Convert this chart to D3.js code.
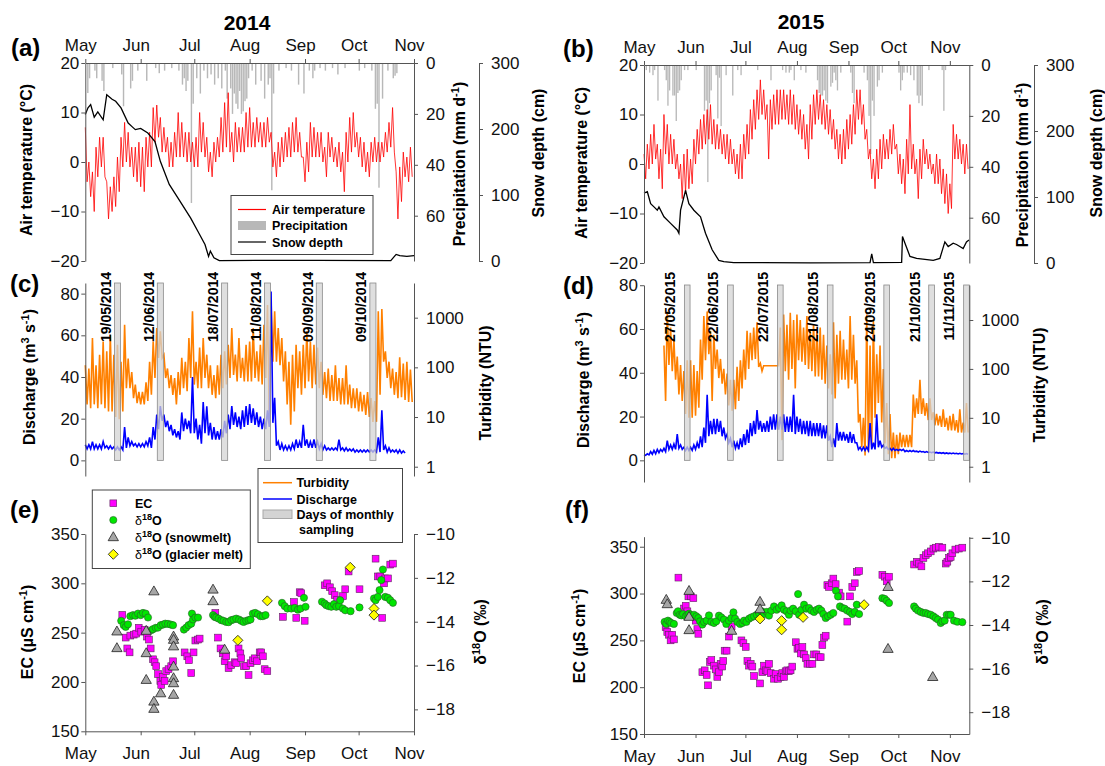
<!DOCTYPE html>
<html>
<head>
<meta charset="utf-8">
<script src="https://cdnjs.cloudflare.com/ajax/libs/d3/7.8.5/d3.min.js"></script>
<style>
  body { margin: 0; background: #fff; }
  svg { font-family: Arial, "Liberation Sans", sans-serif; }
</style>
</head>
<body>
<svg id="chart" width="1105" height="766"></svg>
<script>
'use strict';

// ---- data (days counted from 1 May of each year) ----
var years = ['2014', '2015'];

// air temperature, lows / highs read every 2 days
var tempHi14 = [7,0,-2,3,5,5,-4,-5,-3,1, 5,8,6,3,3,4,3,5,6,11, 11.5,9,7,5,4,6,10,8,6,6, 4,5,10,8,5,2,4,5,9,12,
  14,6,8,7,7,10,11,8,9,8, 8,9,6,2,4,5,6,7,8,9, 6,1,4,8,7,6,6,3,6,5, 3,4,2,6,9,10,6,5,4,2, 4,5,4,4,6,8,11,-2,-1,2, 1,3];
var tempLo14 = [-4,-7,-10,-3,-1,-3,-11.5,-10,-9,-6, -1,0,-1,-3,-4,-5,-6,-1,-1,4, 5,2,2,-1,-1,1,1,1,0,0, -1,-1,2,1,-2,-3,0,1,2,3,
  2,0,2,2,2,3,3,3,4,3, 3,4,-1,-3,-1,0,1,1,2,2, 1,-4,-2,1,1,1,0,-3,1,0, -1,-2,-6,0,2,3,1,-1,-2,-3, 0,0,0,1,2,3,2,-11.5,-8,-3, -4,-3];
var tempHi15 = [2,4,6,8,4,3,10,8,6,5, 2,0,2,3,1,5,7,9,10,11, 12,9,8,7,6,6,5,3,2,4, 6,8,11,13,15,17,15,12,13,14,
  15,15,15,14,15,14,12,11,10,8, 12,14,15,14,13,12,11,9,7,6, 7,9,10,12,15,15,12,7,3,1, 3,5,6,5,7,8,4,2,1,5,
  12,4,1,3,5,3,2,0,2,1, -1,-2,-4,8,6,5,4,4];
var tempLo15 = [-3,-1,0,1,-3,-5,2,0,0,-1, -3,-7,-6,-5,-4,0,2,3,4,5, 4,3,3,2,1,0,0,-2,-3,-3, 1,2,5,7,9,10,9,1,7,8,
  8,9,9,8,8,7,6,5,3,1, 5,8,9,8,7,6,5,3,1,0, 1,3,4,6,9,8,5,1,-3,-5, -3,-1,1,1,2,3,-2,-4,-6,-2,
  -1,-2,-7,-3,0,-1,-2,-4,-4,-6, -8,-10,-9,1,1,0,-2,-1];

// precipitation [day, mm]
var precip14 = [[1,11.8],[2,6],[5,3],[6,6],[9,7],[10,11],[15,2],[20,4.5],[21,17],[25,10],[26,7],[29,3],[34,7],[39,2],[41,4],
  [44,3],[48,2],[52,3],[54,8.5],[55,6],[56,11],[57,7],[59,55],[60,16],[62,6],[64,12],[66,3],[68,6],[70,4.5],[72,8.5],[74,6],
  [76,10],[78,3],[79,14],[81,10],[82,20],[83,12],[84,16],[85,18],[86,11],[87,20],[88,19],[89,15],[90,14],[91,6],[93,3],
  [95,8.5],[98,7],[100,14],[102,8.5],[103,6],[104,50],[105,12],[108,3],[112,2],[115,3],[119,8.5],[122,12],[125,3],[127,6],
  [128,3],[131,2],[134,3],[138,2],[141,4.5],[145,2],[153,3],[156,2],[160,3],[162,18],[163,16],[164,49],[166,14],[169,3],
  [172,6],[173,5],[174,4]];
var precip15 = [[1,2],[3,3],[5,4],[6,2],[8,14],[12,2],[13,6],[14,16],[15,10],[17,12],[18,12],[19,22],[20,11],[21,10],[22,6],
  [24,2],[26,2],[31,2],[36,18],[37,14],[38,46],[39,15],[40,10],[43,4],[44,21],[45,5],[46,24],[49,4],[53,12],[56,2],[58,4],
  [68,2],[76,6],[83,2],[85,3],[87,3],[88,2],[90,6],[94,2],[97,3],[104,6],[105,11],[106,12],[107,12],[108,10],[109,14],
  [110,15],[112,8.5],[113,7],[114,3],[115,6],[116,10],[118,3],[124,3],[125,11],[126,15],[132,3],[134,6],[135,20],[136,35],
  [137,14],[138,20],[140,8.5],[141,6],[143,3],[153,3],[154,10],[155,6],[156,3],[158,3],[160,4],[162,6],[164,12],[165,15],
  [166,12],[167,16],[171,2],[179,2],[180,18],[181,2]];

// snow depth [day, cm]
var snow14 = [[0,222],[1.5,232],[3,237],[5,218],[7,226],[10,214],[12,252],[15,245],[17,242],[20,232],[24,209],[26,204],
  [28,199],[31,201],[35,194],[39,181],[42,151],[47,116],[52,95],[59,65],[63,45],[67,25],[69,7],[70,15],[72,5],[75,0.5],
  [100,1],[130,1],[171,0.5],[174,10],[176,8],[180,7],[184,8]];
var snow15 = [[0,106],[2,108],[4,90],[6,85],[8,80],[9,85],[12,70],[16,60],[20,50],[21,45],[22,80],[25,110],[27,90],[30,80],
  [34,70],[37,45],[41,20],[45,4],[48,2],[54,0.5],[100,0.3],[136,0.5],[137,14],[138,0.5],[155,1],[155.5,40],[157,30],
  [160,10],[164,7],[174,4],[178,7],[181,32],[183,25],[186,30],[188,28],[190,25],[192,22],[194,32],[195.5,35]];

// turbidity (NTU), lows / highs every 2 days
var turbHi14 = [110,95,390,110,180,330,210,450,180,285, 130,720,150,80,45,32,32,50,130,330, 620,530,180,95,70,61,80,155,130,390,
  1340,130,250,390,180,110,70,110,180,210, 285,620,180,390,155,285,330,620,210,285, 720,1800,2100,1340,620,390,210,130,180,285,
  210,285,530,330,285,250,130,80,95,70, 110,61,61,110,45,38,38,32,28,32, 24,21,1340,1500,210,130,95,80,160,120, 130,90];
var turbLo14 = [18,15,18,15,18,15,13,13,10,9, 13,38,38,24,19,18,18,21,28,61, 155,155,61,38,28,18,28,38,33,61,
  45,38,38,61,38,28,24,28,38,45, 61,70,52,61,52,52,52,61,52,45, 61,10,130,130,110,52,18,7,13,38,
  28,38,52,38,45,38,28,24,21,21, 21,18,18,18,15,15,13,13,11,10, 8,8,28,130,61,38,28,24,25,22, 20,20];
var turbHi15 = [null,null,null,null,null,null, 300,1500,700,400,180,120,90,150,150,120, 90,400,1200,1500,600,500,250,160,100,80,
  60,60,110,150,250,600,550,700,900,130, 116,116,116,116,116,700,1300,800,1400,1000, 1300,1000,700,1200,600,800,600,700,500,300,
  200,900,500,600,400,250,1200,500,150,12, 10,1300,300,1000,200,300,100,20,12,5, 4.5,5,4.5,4.5,4.5,30,25,60,25,20,
  25,13,12,11,15,10,11,12,9,15, 8,20];
var turbLo15 = [null,null,null,null,null,null, 22,120,90,60,30,22,12,10,10,11, 16,60,150,200,22,100,65,50,30,18,
  14,15,22,40,60,100,150,160,110,90, 116,116,116,116,116,3.5,90,60,100,40, 150,140,120,100,90,70,70,60,50,40,
  30,25,50,60,60,40,60,50,8,2.5, 1.7,2,2.5,10,20,8,3,1.8,1.5,1.5, 1.8,2.5,2.5,2.5,2.5,10,12,12,11,9,
  9,7,7,6.5,6.5,5.5,5.5,5.5,5,5, 5,5];

// discharge (m3 s-1), lows / highs every 2 days
var qHi14 = [7.5,7.5,9,7.5,7.5,9,7,7,6.5,6.5, 6.5,16,11,9,8,8,8,9,11,16, 22,26,22,19,17,15,14,23,20,19,
  40,20,17,28,26,18,16,14,15,19, 22,26,23,21,24,26,27,25,23,21, 20,24,81,30,9,8,7,7,8,10,
  9,17,10,9,10,9,8,7,6,6, 6,10,6,6,5.5,5.5,5,5,5,5, 5,5,11,24,7,6,5,5,5,4.5];
var qLo14 = [5.5,5.5,5.5,5.5,5.5,6,5.5,5.5,5,5, 5,6,7,7,6.5,6.5,6.5,7,6,10, 15,19,16,14,12,11,10,14,15,13,
  13,10,8,13,12,10,10,10,11,13, 15,17,16,15,16,17,18,17,16,15, 15,16,18,7,5,5,5,5,5.5,6,
  6,7,6,6,6,5.5,5,5,5,5, 5,5,4.5,4.5,4.5,4,4,4,4,4, 4,4,4,5,4,4,4,3.5,3.5,3.5];
var qHi15 = [2.6,3,4,4.5,5,5,5.5,9,7,7.5, 12,7,6,6,6,7,8,11,15,30, 18,19,19,18,15,12,10,9,8,10, 12,14,17,18,23,18,17,18,20,21,
  21,20,21,20,20,30,20,19,18,18, 18,17,17,17,16,16,11,10,17,13, 13,12,13,12,8,6,6,6,17,8, 21,9,7,6,5.5,5.5,5,5,5,4.5,
  4.5,4.5,4.2,4.2,4,4,3.8,3.8,3.6,3.5, 3.5,3.4,3.3,3.3,3.2,3.2,3.1,3.1];
var qLo15 = [2.3,2.5,2.8,3,3.5,4,4,5,5,5, 5.5,5,4.5,4.5,4.5,5,5.5,6,8,11, 12,12,13,11,10,8,6,5.5,5,6, 7,8,11,12,14,13,13,13,14,14,
  14,14,13,13,13,12,13,12,12,11, 11,11,11,10,10,9,6,6,9,9, 9,8,8,8,5,4.5,4.5,4.5,5,5, 6,6,5.5,5,4.5,4.5,4.5,4.5,4,4,
  4,4,3.8,3.8,3.6,3.6,3.5,3.4,3.3,3.2, 3.1,3.1,3,3,2.9,2.9,2.8,2.8];

// monthly sampling days
var sampling14 = ['2014-05-19','2014-06-12','2014-07-18','2014-08-11','2014-09-09','2014-10-09'];
var sampling15 = ['2015-05-27','2015-06-22','2015-07-22','2015-08-21','2015-09-24','2015-10-21','2015-11-11'];

// EC (uS/cm) [day, value]
var ec14 = [[20.7,268],[22.6,245],[23.5,234],[24.8,230],[25.2,247],[27.1,248],[28.5,249],[29.9,255],[31.3,251],[33.2,253],
  [34.5,246],[35.6,243],[36.6,234],[37.9,223],[38.8,220],[39.7,216],[40.7,208],[42,201],[42.5,197],[43.5,205],[44.4,201],
  [45.3,211],[46.6,213],[48.1,216],[49.1,221],[55.6,230],[57.1,226],[58,222],[59.3,209],[60.6,230],[61.6,242],[63.1,243],
  [64,244],[72.8,270],[74.3,245],[75.7,234],[77,229],[78,221],[78.9,226],[80.2,214],[81.7,217],[83.6,220],[84.5,219],
  [85.8,234],[86.8,229],[87.3,224],[88.8,216],[90.1,216],[91.4,207],[92.5,219],[93.8,222],[94.8,224],[96.1,221],[97.6,230],
  [98.5,230],[99.4,226],[100.4,213],[101.9,211],[110.6,266],[116.8,281],[118.1,265],[120,291],[120.9,290],[122.8,262],
  [134,298],[135.4,300],[136.9,296],[138.2,292],[139.6,288],[141,283],[144.2,287],[145.5,294],[147.4,312],[153.5,294],
  [162.5,325],[163.8,307],[165.1,307],[166.2,265],[167.2,300],[167.9,305],[169.4,305],[170.7,319],[172.2,320]];
var ec15 = [[13,264],[14,259],[15,256],[16,250],[17,256],[18,251],[20.7,317],[24.1,284],[25.1,287],[26.1,281],[26.7,297],
  [28.1,297],[29.7,295],[31.1,271],[32.1,262],[32.7,257],[35.1,216],[36.5,218],[37.7,213],[38.5,202],[39.7,227],[40.5,229],
  [42.1,223],[43.1,219],[44.1,211],[45.1,216],[46.1,225],[47.1,222],[47.7,228],[48.5,239],[49.7,239],[51.1,254],[52.7,265],
  [58.6,250],[59.8,247],[61.2,243],[62.2,228],[63.2,223],[64.2,225],[65.2,222],[66.2,212],[69.8,204],[71.2,216],[72.2,223],
  [73.2,218],[74.2,217],[75.2,225],[76.2,215],[78.2,209],[79.2,214],[80.6,209],[82.2,211],[83.2,215],[84.2,211],[85.2,217],
  [86.2,218],[87.2,217],[88.2,218],[89.2,222],[91.3,248],[92.3,241],[93.3,242],[94.3,236],[95.3,243],[96.3,235],[97.3,231],
  [98.3,225],[99.7,225],[101.3,225],[102.3,235],[103.7,235],[105.3,232],[106.3,232],[107.3,245],[108.3,253],[109.3,255],
  [110.3,309],[111.3,307],[112.9,311],[113.9,316],[115.3,310],[117.3,301],[118.3,297],[122.3,270],[123.9,297],[125.3,307],
  [126.8,311],[128,323],[129.4,324],[143.4,320],[144.8,318],[146,313],[147.4,318],[162.5,331],[164.1,334],[165.5,332],
  [166.9,329],[168.1,338],[169.5,341],[170.9,343],[172.5,345],[174.1,348],[175.5,349],[177.5,350],[179.5,349],[181.5,332],
  [182.5,334],[183.5,338],[184.5,339],[185.5,343],[187.3,347],[189.4,348],[191.5,349]];

// d18O of river water (per mil) [day, value]
var iso14 = [[20.1,-13.96],[21.5,-14.16],[22.6,-14.24],[23.9,-14.12],[25.2,-13.75],[26.7,-13.7],[28,-13.73],[29.5,-13.63],
  [31,-13.7],[32.3,-13.6],[33.8,-13.63],[35.1,-13.81],[36.9,-14.39],[37.9,-14.34],[39.4,-14.28],[40.7,-14.27],[42.2,-14.16],
  [43.5,-14.13],[44.8,-14.09],[46.3,-14.1],[47.8,-14.13],[49.1,-14.16],[55.2,-14.36],[56.5,-14.27],[57.8,-14.16],[59.3,-14.09],
  [59.7,-13.63],[60.3,-13.9],[61.6,-13.81],[63.1,-13.81],[71.5,-13.7],[72.4,-13.78],[73.3,-13.81],[74.6,-13.86],[76.1,-13.93],
  [77.4,-13.96],[78.9,-14.01],[80.2,-14.02],[81.7,-13.93],[83,-13.9],[84.5,-13.86],[86,-13.9],[87.3,-13.96],[88.6,-14.01],
  [90.1,-13.96],[91.4,-13.93],[92.5,-13.9],[93.8,-13.63],[95.1,-13.6],[96.6,-13.66],[98.1,-13.75],[99.4,-13.75],[100.9,-13.7],
  [110.1,-13.14],[111.6,-13.29],[113.1,-13.4],[115.3,-13.4],[117.2,-13.37],[119,-13.45],[120.5,-13.4],[122.4,-12.91],
  [123.3,-13.32],[132.5,-13.09],[134,-13.17],[134.9,-13.25],[136.2,-13.29],[137.7,-13.32],[139.2,-13.2],[140.5,-13.32],
  [142,-13.29],[142.7,-13.02],[144.2,-13.4],[145.5,-13.48],[148.5,-13.52],[153.5,-13.35],[161.6,-12.94],[162.5,-13.02],
  [163.8,-12.87],[164.7,-12.56],[165.7,-12.1],[166.6,-11.62],[167.9,-12.87],[169.4,-12.91],[170.7,-13.02],[172.2,-13.14]];
var iso15 = [[12.4,-13.86],[13.4,-13.95],[14.4,-13.8],[15.4,-13.86],[16.4,-13.91],[18,-13.95],[19.7,-13.45],[20.5,-13.37],
  [21.5,-13.53],[22.5,-13.56],[23.5,-13.5],[25.1,-13.6],[26.1,-13.53],[27.1,-13.48],[28.5,-13.56],[30.1,-13.53],[31.5,-13.6],
  [32.7,-13.68],[33.7,-13.83],[35.1,-13.98],[36.1,-13.86],[37.7,-13.8],[39.1,-13.56],[40.5,-13.86],[42.1,-13.91],[43.5,-13.83],
  [45.1,-13.57],[46.5,-13.65],[48.1,-13.75],[49.5,-13.95],[51.1,-13.8],[52.5,-13.68],[53.8,-13.42],[54.8,-13.71],[56.2,-13.86],
  [57.8,-13.95],[59.2,-13.91],[60.2,-13.8],[61.6,-13.86],[63.2,-13.71],[64.6,-13.65],[66.2,-13.6],[67.8,-13.53],[69.2,-13.45],
  [70.8,-13.37],[72.2,-13.5],[73.8,-13.4],[75.2,-13.57],[76.6,-13.34],[78.2,-13.15],[79.8,-13.3],[81.2,-13.22],[82.8,-13.1],
  [84.2,-13.3],[85.8,-13.37],[87.2,-13.53],[88.2,-13.34],[89.7,-13.25],[91.3,-13.37],[92.7,-12.58],[93.3,-13.53],[94.7,-13.3],
  [96.3,-13.07],[97.7,-13.25],[99.3,-13.22],[100.7,-13.34],[102.3,-13.4],[103.9,-13.3],[105.3,-13.25],[106.7,-13.34],
  [107.9,-13.5],[109.3,-13.68],[110.7,-13.6],[112.3,-13.53],[113.9,-13.45],[115.5,-12.43],[116.7,-12.69],[117.9,-13.15],
  [119.3,-13.22],[120.7,-13.25],[122.3,-13.34],[123.9,-13.4],[125.3,-13.5],[126.8,-13.4],[128,-13.07],[129.4,-13.5],
  [143.4,-12.77],[144.8,-12.8],[146,-12.89],[147.4,-12.99],[162.5,-13.15],[163.5,-13.25],[164.9,-13.34],[166.5,-13.4],
  [168.1,-13.45],[169.5,-13.45],[170.9,-13.5],[172.5,-13.53],[174.1,-13.6],[175.5,-13.68],[176.9,-13.75],[178.5,-13.91],
  [179.5,-13.83],[180.9,-13.8],[182.1,-13.53],[183.5,-13.53],[184.5,-13.53],[186.5,-13.8],[188.5,-13.85],[191.5,-13.87]];

// d18O of snowmelt and glacier melt samples [day, value]
var snowmelt14 = [[17.7,-14.47],[17.7,-15.23],[34.1,-14.44],[34.1,-15.46],[34.1,-16.68],[38.4,-12.64],[38.4,-17.67],[38.4,-18],
  [42.2,-17.29],[49.4,-14.7],[49.4,-14.85],[49.4,-15.15],[49.4,-16.07],[49.4,-16.6],[49.4,-16.83],[49.4,-17.36],[71.5,-12.56],
  [71.5,-13.09],[78,-15.3]];
var glacier14 = [[85.4,-14.85],[101.9,-13.05],[148.3,-11.52],[161.6,-13.4],[161.6,-13.7]];
var snowmelt15 = [[13.4,-12.87],[14,-13.07],[27.1,-12.46],[27.1,-13.65],[27.1,-14.26],[52.7,-14.29],[69.8,-12.96],[69.8,-13.3],
  [146.8,-12.28],[146.8,-15.12],[173.7,-16.41]];
var glacier15 = [[69.8,-13.72],[82.8,-13.8],[82.8,-14.22],[95.7,-13.65],[132.4,-13.07]];

// ---- drawing ----
var DAY = 864e5;
var T14 = Date.UTC(2014, 4, 1), T15 = Date.UTC(2015, 4, 1);
function at(t0, d) { return new Date(t0 + d * DAY); }

var svg = d3.select('#chart');
svg.append('rect').attr('width', 1105).attr('height', 766).attr('fill', '#fff');

var x14 = d3.scaleUtc().domain([at(T14, 0), at(T14, 184)]).range([85.3, 414]);
var x15 = d3.scaleUtc().domain([at(T15, 0), at(T15, 195.7)]).range([644, 969.3]);

function styleAxis(g) {
  g.select('.domain').attr('stroke', '#555');
  g.selectAll('.tick line').attr('stroke', '#555');
  g.selectAll('.tick text').attr('fill', '#111').style('font-size', '17px');
  return g;
}

// rotated axis title; parts: [text, 'sup'?]
function vtitle(x, y, parts) {
  var t = svg.append('text')
    .attr('transform', 'translate(' + x + ',' + y + ') rotate(-90)')
    .attr('text-anchor', 'middle')
    .style('font-weight', 'bold').style('font-size', '16px');
  parts.forEach(function(p) {
    var s = t.append('tspan').text(p[0]);
    if (p[1] === 'sup') s.attr('baseline-shift', 'super').style('font-size', '11px');
  });
}

function label(x, y, txt, size) {
  svg.append('text').attr('x', x).attr('y', y).text(txt)
    .style('font-weight', 'bold').style('font-size', size + 'px');
}

// pairs lows / highs into one zig-zag line
function zig(t0, lo, hi) {
  var out = [];
  hi.forEach(function(h, k) {
    if (h === null) return;
    out.push([at(t0, 2 * k), h], [at(t0, 2 * k + 1), lo[k]]);
  });
  return out;
}

function monthAxis(g, x, gen, pad) {
  g.call(gen(x).ticks(d3.utcMonth.every(1)).tickFormat(d3.utcFormat('%b'))
    .tickSize(4).tickPadding(pad).tickSizeOuter(0));
  styleAxis(g);
  g.selectAll('.tick text').attr('dx', -5);
}

// ---------- panels (a), (b) ----------
function climate(o) {
  var x = o.x;
  var yT = d3.scaleLinear().domain([-20, 20]).range([o.bottom, o.top]);
  var yP = d3.scaleLinear().domain([0, 77.8]).range([o.top, o.bottom]);
  var yS = d3.scaleLinear().domain([0, 300]).range([o.bottom, o.top]);
  var g = svg.append('g');

  g.selectAll('rect.p').data(o.precip).enter().append('rect')
    .attr('x', function(d) { return x(at(o.t0, d[0])); })
    .attr('y', yP(0))
    .attr('width', function(d) { return x(at(o.t0, d[0] + 0.8)) - x(at(o.t0, d[0])); })
    .attr('height', function(d) { return yP(d[1]) - yP(0); })
    .attr('fill', '#b8b8b8');

  var line = d3.line().x(function(d) { return x(d[0]); });
  g.append('path').datum(zig(o.t0, o.tLo, o.tHi))
    .attr('d', line.y(function(d) { return yT(d[1]); }))
    .attr('fill', 'none').attr('stroke', '#ff0000').attr('stroke-width', 0.8);
  g.append('path').datum(o.snow.map(function(d) { return [at(o.t0, d[0]), d[1]]; }))
    .attr('d', line.y(function(d) { return yS(d[1]); }))
    .attr('fill', 'none').attr('stroke', '#000').attr('stroke-width', 1.3);

  var l = x.range()[0], r = x.range()[1];
  styleAxis(g.append('g').attr('transform', 'translate(' + l + ',0)')
    .call(d3.axisLeft(yT).tickValues([-20, -10, 0, 10, 20]).tickSize(4).tickPadding(2).tickSizeOuter(0)));
  styleAxis(g.append('g').attr('transform', 'translate(' + r + ',0)')
    .call(d3.axisRight(yP).tickValues([0, 20, 40, 60]).tickSize(4).tickPadding(8).tickSizeOuter(0)));
  styleAxis(g.append('g').attr('transform', 'translate(' + o.snowX + ',0)')
    .call(d3.axisRight(yS).tickValues([0, 100, 200, 300]).tickSize(4).tickPadding(8).tickSizeOuter(0)));
  monthAxis(g.append('g').attr('transform', 'translate(0,' + o.top + ')'), x, d3.axisTop, 8);
}

climate({ x: x14, t0: T14, top: 63, bottom: 261, snowX: 479, precip: precip14, snow: snow14, tLo: tempLo14, tHi: tempHi14 });
climate({ x: x15, t0: T15, top: 65, bottom: 263, snowX: 1034, precip: precip15, snow: snow15, tLo: tempLo15, tHi: tempHi15 });

// legend (a)
(function() {
  var g = svg.append('g');
  g.append('rect').attr('x', 231).attr('y', 195.5).attr('width', 142).attr('height', 59)
    .attr('fill', '#fff').attr('stroke', '#444');
  g.append('line').attr('x1', 238).attr('x2', 266).attr('y1', 209.5).attr('y2', 209.5)
    .attr('stroke', '#ff0000').attr('stroke-width', 1.2);
  g.append('rect').attr('x', 238).attr('y', 221).attr('width', 28).attr('height', 9).attr('fill', '#b8b8b8');
  g.append('line').attr('x1', 238).attr('x2', 266).attr('y1', 242).attr('y2', 242)
    .attr('stroke', '#000').attr('stroke-width', 1.2);
  ['Air temperature', 'Precipitation', 'Snow depth'].forEach(function(t, i) {
    g.append('text').attr('x', 272).attr('y', [214, 230, 246.5][i]).text(t)
      .style('font-weight', 'bold').style('font-size', '12.5px');
  });
})();

// ---------- panels (c), (d) ----------
var parseDay = d3.utcParse('%Y-%m-%d');
var fmtDay = d3.utcFormat('%d/%m/%Y');

function hydro(o) {
  var x = o.x;
  var yQ = d3.scaleLinear().domain(o.qDomain).range([o.bottom, o.top]);
  var yN = d3.scaleLog().domain(o.nDomain).range([o.bottom, o.top]);
  var g = svg.append('g');
  var line = d3.line().x(function(d) { return x(d[0]); });

  g.append('path').datum(zig(o.t0, o.nLo, o.nHi))
    .attr('d', line.y(function(d) { return yN(d[1]); }))
    .attr('fill', 'none').attr('stroke', '#ff8000').attr('stroke-width', 1.6);
  g.append('path').datum(zig(o.t0, o.qLo, o.qHi))
    .attr('d', line.y(function(d) { return yQ(d[1]); }))
    .attr('fill', 'none').attr('stroke', '#0000ff').attr('stroke-width', 1.6);

  var days = o.sampling.map(parseDay);
  g.selectAll('rect.s').data(days).enter().append('rect')
    .attr('x', function(d) { return x(new Date(+d - 1.7 * DAY)); })
    .attr('width', function(d) { return x(new Date(+d + 1.7 * DAY)) - x(new Date(+d - 1.7 * DAY)); })
    .attr('y', o.top).attr('height', yQ(0) - o.top)
    .attr('fill', '#d4d4d4').attr('fill-opacity', 0.75).attr('stroke', '#8a8a8a').attr('stroke-width', 0.8);
  g.selectAll('text.s').data(days).enter().append('text')
    .attr('transform', function(d) { return 'translate(' + (x(d) - o.labelShift) + ',272) rotate(-90)'; })
    .attr('text-anchor', 'end').text(fmtDay)
    .style('font-weight', 'bold').style('font-size', '14px');

  var l = x.range()[0], r = x.range()[1];
  styleAxis(g.append('g').attr('transform', 'translate(' + l + ',0)')
    .call(d3.axisLeft(yQ).tickValues([0, 20, 40, 60, 80]).tickSize(4).tickPadding(2).tickSizeOuter(0)));
  styleAxis(g.append('g').attr('transform', 'translate(' + r + ',0)')
    .call(d3.axisRight(yN).tickValues([1, 10, 100, 1000]).tickFormat(d3.format('d'))
      .tickSize(4).tickPadding(8).tickSizeOuter(0)));
}

hydro({ x: x14, t0: T14, top: 283, bottom: 476, qDomain: [-7.5, 85.1], nDomain: [0.65, 4990], labelShift: 6.5,
  nLo: turbLo14, nHi: turbHi14, qLo: qLo14, qHi: qHi14, sampling: sampling14 });
hydro({ x: x15, t0: T15, top: 285, bottom: 482, qDomain: [-9.9, 80.1], nDomain: [0.487, 5200], labelShift: 12,
  nLo: turbLo15, nHi: turbHi15, qLo: qLo15, qHi: qHi15, sampling: sampling15 });

// legend (c)
(function() {
  var g = svg.append('g');
  g.append('rect').attr('x', 258).attr('y', 468.5).attr('width', 144.5).attr('height', 74)
    .attr('fill', '#fff').attr('stroke', '#444');
  g.append('line').attr('x1', 263).attr('x2', 292).attr('y1', 482.7).attr('y2', 482.7).attr('stroke', '#ff8000').attr('stroke-width', 1.5);
  g.append('line').attr('x1', 263).attr('x2', 292).attr('y1', 499).attr('y2', 499).attr('stroke', '#0000ff').attr('stroke-width', 1.5);
  g.append('rect').attr('x', 263).attr('y', 510).attr('width', 29).attr('height', 8.5)
    .attr('fill', '#d4d4d4').attr('stroke', '#a8a8a8');
  [['Turbidity', 296.5, 487], ['Discharge', 296.5, 503.5], ['Days of monthly', 296.5, 519], ['sampling', 299, 534]]
    .forEach(function(t) {
      g.append('text').attr('x', t[1]).attr('y', t[2]).text(t[0])
        .style('font-weight', 'bold').style('font-size', '12.5px');
    });
})();

// ---------- panels (e), (f) ----------
function drawSquares(g, pts, sx, sy) {
  g.selectAll(null).data(pts).enter().append('rect')
    .attr('x', function(d) { return sx(d[0]) - 3.4; }).attr('y', function(d) { return sy(d[1]) - 3.4; })
    .attr('width', 6.8).attr('height', 6.8)
    .attr('fill', '#ff00ff').attr('stroke', '#5a2a5a').attr('stroke-width', 0.6);
}
function drawSym(g, pts, sx, sy, type, size, fill, rot) {
  g.selectAll(null).data(pts).enter().append('path')
    .attr('d', d3.symbol().type(type).size(size))
    .attr('transform', function(d) { return 'translate(' + sx(d[0]) + ',' + sy(d[1]) + ') rotate(' + rot + ')'; })
    .attr('fill', fill).attr('stroke', '#222').attr('stroke-width', 0.8);
}

function chem(o) {
  var x = o.x;
  var yE = d3.scaleLinear().domain(o.ecDomain).range([o.bottom, o.top]);
  var yI = d3.scaleLinear().domain(o.isoDomain).range([o.bottom, o.top]);
  var fx = function(d) { return x(at(o.t0, d)); };
  var g = svg.append('g');

  drawSquares(g, o.ec, fx, yE);
  g.selectAll(null).data(o.iso).enter().append('circle')
    .attr('cx', function(d) { return fx(d[0]); }).attr('cy', function(d) { return yI(d[1]); })
    .attr('r', 3.6).attr('fill', '#00e600').attr('stroke', '#2a5a2a').attr('stroke-width', 0.6);
  drawSym(g, o.snowmelt, fx, yI, d3.symbolTriangle, 46, '#a6a6a6', 0);
  drawSym(g, o.glacier, fx, yI, d3.symbolSquare, 50, '#ffff00', 45);

  var l = x.range()[0], r = x.range()[1];
  styleAxis(g.append('g').attr('transform', 'translate(' + l + ',0)')
    .call(d3.axisLeft(yE).tickValues([150, 200, 250, 300, 350]).tickSize(4).tickPadding(2).tickSizeOuter(0)));
  styleAxis(g.append('g').attr('transform', 'translate(' + r + ',0)')
    .call(d3.axisRight(yI).tickValues([-18, -16, -14, -12, -10]).tickSize(4).tickPadding(8).tickSizeOuter(0)));
  monthAxis(g.append('g').attr('transform', 'translate(0,' + o.bottom + ')'), x, d3.axisBottom, 12);
}

chem({ x: x14, t0: T14, top: 534, bottom: 731.3, ecDomain: [150, 350], isoDomain: [-19, -10],
  ec: ec14, iso: iso14, snowmelt: snowmelt14, glacier: glacier14 });
chem({ x: x15, t0: T15, top: 536.7, bottom: 734, ecDomain: [150, 360.7], isoDomain: [-19, -9.95],
  ec: ec15, iso: iso15, snowmelt: snowmelt15, glacier: glacier15 });

// legend (e)
(function() {
  var g = svg.append('g');
  g.append('rect').attr('x', 92.3).attr('y', 490).attr('width', 158).attr('height', 78.5)
    .attr('fill', '#fff').attr('stroke', '#444');
  var ys = [503.3, 520, 537.7, 554.3];
  g.append('rect').attr('x', 113.3 - 3.4).attr('y', ys[0] - 3.4).attr('width', 6.8).attr('height', 6.8)
    .attr('fill', '#ff00ff').attr('stroke', '#5a2a5a').attr('stroke-width', 0.6);
  g.append('circle').attr('cx', 113.3).attr('cy', ys[1]).attr('r', 3.6)
    .attr('fill', '#00e600').attr('stroke', '#2a5a2a').attr('stroke-width', 0.6);
  g.append('path').attr('d', d3.symbol().type(d3.symbolTriangle).size(46))
    .attr('transform', 'translate(113.3,' + ys[2] + ')').attr('fill', '#a6a6a6').attr('stroke', '#222').attr('stroke-width', 0.8);
  g.append('path').attr('d', d3.symbol().type(d3.symbolSquare).size(50))
    .attr('transform', 'translate(113.3,' + ys[3] + ') rotate(45)').attr('fill', '#ffff00').attr('stroke', '#222').attr('stroke-width', 0.8);
  var texts = [['EC', ''], ['O', ''], ['O', ' (snowmelt)'], ['O', ' (glacier melt)']];
  texts.forEach(function(t, i) {
    var tx = g.append('text').attr('x', 135).attr('y', ys[i] + 4.5)
      .style('font-weight', 'bold').style('font-size', '12.5px');
    if (i === 0) { tx.text('EC'); return; }
    tx.append('tspan').text('δ').style('font-weight', 'normal');
    tx.append('tspan').text('18').attr('baseline-shift', 'super').style('font-size', '9px');
    tx.append('tspan').text(t[0] + t[1]);
  });
})();

// ---------- titles and labels ----------
svg.append('text').attr('x', 247).attr('y', 30).attr('text-anchor', 'middle').text(years[0])
  .style('font-weight', 'bold').style('font-size', '21px');
svg.append('text').attr('x', 801).attr('y', 29).attr('text-anchor', 'middle').text(years[1])
  .style('font-weight', 'bold').style('font-size', '21px');

label(11, 56, '(a)', 24); label(563, 57, '(b)', 24);
label(10, 292, '(c)', 24); label(563, 294, '(d)', 24);
label(10, 518, '(e)', 24); label(565, 518, '(f)', 24);

vtitle(32, 160, [['Air temperature (°C)']]);
vtitle(465, 164, [['Precipitation (mm d'], ['-1', 'sup'], [')']]);
vtitle(544, 153, [['Snow depth (cm)']]);
vtitle(587, 163, [['Air temperature (°C)']]);
vtitle(1028, 165, [['Precipitation (mm d'], ['-1', 'sup'], [')']]);
vtitle(1102, 153, [['Snow depth (cm)']]);

vtitle(35, 377, [['Discharge (m'], ['3', 'sup'], [' s'], ['-1', 'sup'], [')']]);
vtitle(491, 383, [['Turbidity (NTU)']]);
vtitle(589, 380, [['Discharge (m'], ['3', 'sup'], [' s'], ['-1', 'sup'], [')']]);
vtitle(1045, 385, [['Turbidity (NTU)']]);

vtitle(33, 632, [['EC (µS cm'], ['-1', 'sup'], [')']]);
vtitle(486, 632, [['δ'], ['18', 'sup'], ['O (‰)']]);
vtitle(585, 636, [['EC (µS cm'], ['-1', 'sup'], [')']]);
vtitle(1048, 632, [['δ'], ['18', 'sup'], ['O (‰)']]);
</script>
</body>
</html>
